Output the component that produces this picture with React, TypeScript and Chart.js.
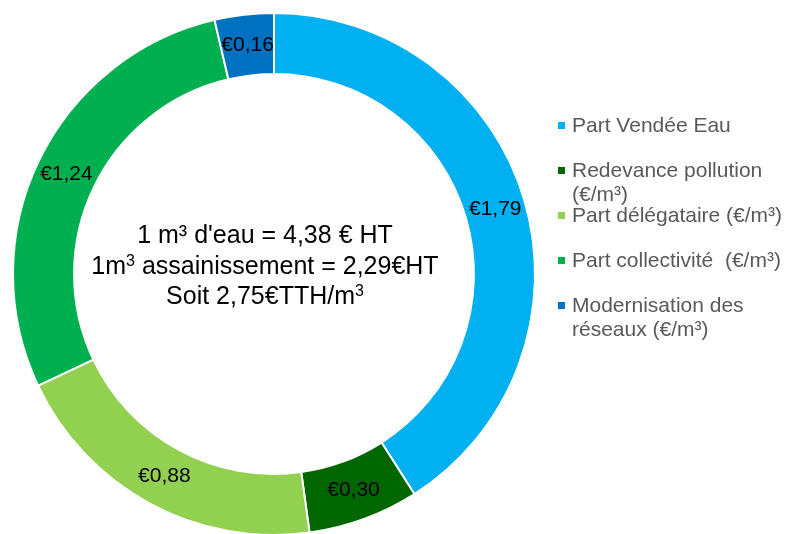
import React, { useEffect, useRef } from "react";
import { Chart, registerables } from "chart.js";

Chart.register(...registerables);

const categories = [
  "Part Vendée Eau",
  "Redevance pollution (€/m³)",
  "Part délégataire (€/m³)",
  "Part collectivité  (€/m³)",
  "Modernisation des réseaux (€/m³)",
];
const values = [1.79, 0.3, 0.88, 1.24, 0.16];
const colors = ["#00B0F0", "#006600", "#92D050", "#00B050", "#0070C0"];

type Seg = { t: string; sup?: boolean };
const centerLines: Seg[][] = [
  [{ t: "1 m³ d'eau = 4,38 € HT" }],
  [{ t: "1m" }, { t: "3", sup: true }, { t: " assainissement = 2,29€HT" }],
  [{ t: "Soit 2,75€TTH/m" }, { t: "3", sup: true }],
];

const FONT = "'Liberation Sans', Arial, sans-serif";

const fmt = (v: number) => "€" + v.toFixed(2).replace(".", ",");

const labelPlugin = {
  id: "sliceLabels",
  afterDatasetsDraw(chart: any) {
    const ctx = chart.ctx;
    const meta = chart.getDatasetMeta(0);
    ctx.save();
    ctx.font = `21px ${FONT}`;
    ctx.fillStyle = "#000000";
    ctx.textAlign = "center";
    ctx.textBaseline = "middle";
    meta.data.forEach((arc: any, i: number) => {
      const p = arc.getCenterPoint();
      ctx.fillText(fmt(values[i]), p.x, p.y);
    });
    ctx.restore();
  },
};

const centerPlugin = {
  id: "centerText",
  afterDraw(chart: any) {
    const ctx = chart.ctx;
    const meta = chart.getDatasetMeta(0);
    const arc = meta.data[0];
    if (!arc) return;
    const size = 25;
    const supSize = 16;
    const cx = arc.x - 9;
    const baseY = arc.y - 31;
    const lh = 30.5;
    ctx.save();
    ctx.fillStyle = "#000000";
    ctx.textAlign = "left";
    ctx.textBaseline = "alphabetic";
    centerLines.forEach((line, li) => {
      let total = 0;
      line.forEach((s) => {
        ctx.font = `${s.sup ? supSize : size}px ${FONT}`;
        total += ctx.measureText(s.t).width;
      });
      let x = cx - total / 2;
      const y = baseY + li * lh;
      line.forEach((s) => {
        ctx.font = `${s.sup ? supSize : size}px ${FONT}`;
        ctx.fillText(s.t, x, s.sup ? y - 8 : y);
        x += ctx.measureText(s.t).width;
      });
    });
    ctx.restore();
  },
};

export default function App() {
  const ref = useRef<HTMLCanvasElement>(null);
  useEffect(() => {
    if (!ref.current) return;
    const chart = new Chart(ref.current, {
      type: "doughnut",
      data: {
        labels: categories,
        datasets: [
          {
            data: values,
            backgroundColor: colors,
            borderColor: "#ffffff",
            borderWidth: 2,
          },
        ],
      },
      options: {
        responsive: false,
        animation: false,
        devicePixelRatio: 1,
        cutout: "76.6%",
        layout: { padding: { left: 12, top: 12, right: 249, bottom: 24 } },
        plugins: {
          legend: { display: false },
          tooltip: { enabled: false },
        },
      },
      plugins: [labelPlugin, centerPlugin],
    });
    return () => chart.destroy();
  }, []);

  return (
    <div
      style={{
        position: "fixed",
        left: 0,
        top: 0,
        width: 785,
        height: 534,
        overflow: "hidden",
        background: "#ffffff",
      }}
    >
      <canvas ref={ref} width={785} height={560} style={{ position: "absolute", left: 0, top: 0 }} />
      {categories.map((c, i) => (
        <div
          key={c}
          style={{
            position: "absolute",
            left: 558,
            top: 113 + i * 45,
            width: 227,
            fontFamily: FONT,
            fontSize: 21,
            lineHeight: "24px",
            color: "#595959",
            display: "flex",
            alignItems: "flex-start",
          }}
        >
          <span
            style={{
              display: "inline-block",
              width: 7,
              height: 7,
              marginTop: 9,
              marginRight: 7,
              background: colors[i],
              flex: "0 0 auto",
            }}
          />
          <span style={{ whiteSpace: "pre-wrap", width: 213 }}>{c}</span>
        </div>
      ))}
    </div>
  );
}
